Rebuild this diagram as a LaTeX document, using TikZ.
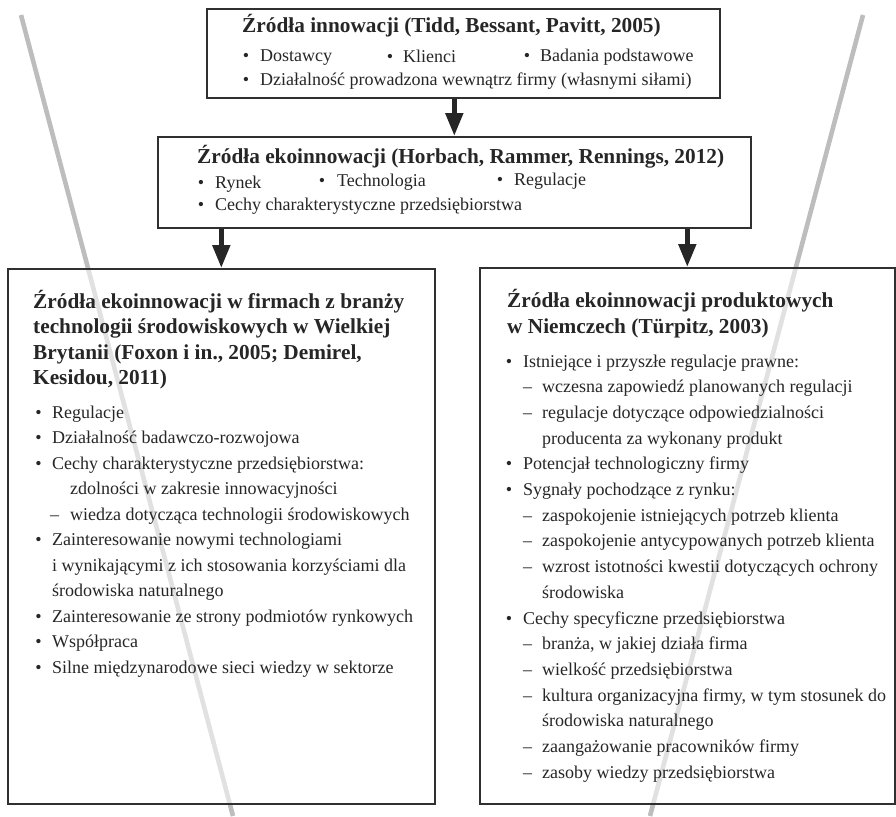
\documentclass[tikz,border=0pt]{standalone}
\usepackage{fontspec}
\setmainfont{Liberation Serif}
\usetikzlibrary{arrows.meta}
\definecolor{ink}{HTML}{262626}
\definecolor{frame}{HTML}{303030}
\definecolor{guide}{HTML}{BDBDBD}
% bullet and dash hanging to the left of the item text
\newcommand\itemdot[1]{\llap{•\hspace{#1}}}
\newcommand\itemdash[1]{\llap{–\hspace{#1}}}
\begin{document}
\begin{tikzpicture}[x=1pt,y=-1pt,
  hd/.style={anchor=base west, inner sep=0pt, font=\fontsize{21.3}{26}\selectfont\bfseries, text=ink},
  tx/.style={anchor=base west, inner sep=0pt, font=\fontsize{18}{25.6}\selectfont, text=ink},
  panel/.style={draw=frame, line width=1.6pt, fill=white, fill opacity=0.55, anchor=north west, inner sep=0pt},
  flow/.style={draw=ink, line width=5pt, -{Triangle[length=23pt,width=17pt]}},
  guideline/.style={draw=guide, line width=4.6pt}]
\useasboundingbox (0,0) rectangle (896,816);

% two slanted grey guide lines behind the panels
\coordinate (g1a) at (21,15);  \coordinate (g1b) at (233,816);
\coordinate (g2a) at (863,15); \coordinate (g2b) at (650,816);
\draw[guideline] (g1a) -- (g1b);
\draw[guideline] (g2a) -- (g2b);

% panels
\node[panel, minimum width=513pt, minimum height=89pt] (p1) at (206,8) {};
\node[panel, minimum width=593pt, minimum height=91pt] (p2) at (157,136) {};
\node[panel, minimum width=427pt, minimum height=535pt] (p3) at (7,268) {};
\node[panel, minimum width=415pt, minimum height=536pt] (p4) at (479,267) {};

% connectors
\draw[flow] (p2.north |- p1.south) -- (p2.north);
\draw[flow] (p3.north |- p2.south) -- (p3.north);
\draw[flow] (p4.north |- p2.south) -- (p4.north);

% top panel
\node[hd] (h1) at (242,33) {Źródła innowacji (Tidd, Bessant, Pavitt, 2005)};
\node[tx] (a1) at (260,61)   {\itemdot{11pt}Dostawcy};
\node[tx] (a2) at (403,63)   {\itemdot{10pt}Klienci};
\node[tx] (a3) at (540,61.5) {\itemdot{10pt}Badania podstawowe};
\node[tx] (a4) at (260,85)   {\itemdot{11pt}Działalność prowadzona wewnątrz firmy (własnymi siłami)};

% second panel
\node[hd] (h2) at (197,163) {Źródła ekoinnowacji (Horbach, Rammer, Rennings, 2012)};
\node[tx] (b1) at (215,188) {\itemdot{11pt}Rynek};
\node[tx] (b2) at (337,186) {\itemdot{12pt}Technologia};
\node[tx] (b3) at (514,185) {\itemdot{11pt}Regulacje};
\node[tx] (b4) at (215,210) {\itemdot{11pt}Cechy charakterystyczne przedsiębiorstwa};

% left lower panel
\node[hd] (h3a) at (33,308) {Źródła ekoinnowacji w firmach z branży};
\node[hd] (h3b) at (33,333.5) {technologii środowiskowych w Wielkiej};
\node[hd] (h3c) at (33,359) {Brytanii (Foxon i in., 2005; Demirel,};
\node[hd] (h3d) at (33,384.5) {Kesidou, 2011)};
\node[tx] (c1)  at (52,418)   {\itemdot{10.5pt}Regulacje};
\node[tx] (c2)  at (52,443.5) {\itemdot{10.5pt}Działalność badawczo-rozwojowa};
\node[tx] (c3)  at (52,469)   {\itemdot{10.5pt}Cechy charakterystyczne przedsiębiorstwa:};
\node[tx] (c4)  at (70,494.5) {zdolności w zakresie innowacyjności};
\node[tx] (c5)  at (70,520)   {\itemdash{11pt}wiedza dotycząca technologii środowiskowych};
\node[tx] (c6)  at (52,545.5) {\itemdot{10.5pt}Zainteresowanie nowymi technologiami};
\node[tx] (c7)  at (52,571)   {i wynikającymi z ich stosowania korzyściami dla};
\node[tx] (c8)  at (52,596.5) {środowiska naturalnego};
\node[tx] (c9)  at (52,622)   {\itemdot{10.5pt}Zainteresowanie ze strony podmiotów rynkowych};
\node[tx] (c10) at (52,647.5) {\itemdot{10.5pt}Współpraca};
\node[tx] (c11) at (52,673)   {\itemdot{10.5pt}Silne międzynarodowe sieci wiedzy w sektorze};

% right lower panel
\node[hd] (h4a) at (507,307) {Źródła ekoinnowacji produktowych};
\node[hd] (h4b) at (507,333) {w Niemczech (Türpitz, 2003)};
\node[tx] (d1)  at (523,367)   {\itemdot{11pt}Istniejące i przyszłe regulacje prawne:};
\node[tx] (d2)  at (542,392.7) {\itemdash{10pt}wczesna zapowiedź planowanych regulacji};
\node[tx] (d3)  at (542,418.4) {\itemdash{10pt}regulacje dotyczące odpowiedzialności};
\node[tx] (d4)  at (542,444.1) {producenta za wykonany produkt};
\node[tx] (d5)  at (523,469.8) {\itemdot{11pt}Potencjał technologiczny firmy};
\node[tx] (d6)  at (523,495.5) {\itemdot{11pt}Sygnały pochodzące z rynku:};
\node[tx] (d7)  at (542,521.2) {\itemdash{10pt}zaspokojenie istniejących potrzeb klienta};
\node[tx] (d8)  at (542,546.9) {\itemdash{10pt}zaspokojenie antycypowanych potrzeb klienta};
\node[tx] (d9)  at (542,572.6) {\itemdash{10pt}wzrost istotności kwestii dotyczących ochrony};
\node[tx] (d10) at (542,598.3) {środowiska};
\node[tx] (d11) at (523,624)   {\itemdot{11pt}Cechy specyficzne przedsiębiorstwa};
\node[tx] (d12) at (542,649.7) {\itemdash{10pt}branża, w jakiej działa firma};
\node[tx] (d13) at (542,675.4) {\itemdash{10pt}wielkość przedsiębiorstwa};
\node[tx] (d14) at (542,701.1) {\itemdash{10pt}kultura organizacyjna firmy, w tym stosunek do};
\node[tx] (d15) at (542,726.8) {środowiska naturalnego};
\node[tx] (d16) at (542,752.5) {\itemdash{10pt}zaangażowanie pracowników firmy};
\node[tx] (d17) at (542,778.2) {\itemdash{10pt}zasoby wiedzy przedsiębiorstwa};
\end{tikzpicture}
\end{document}
